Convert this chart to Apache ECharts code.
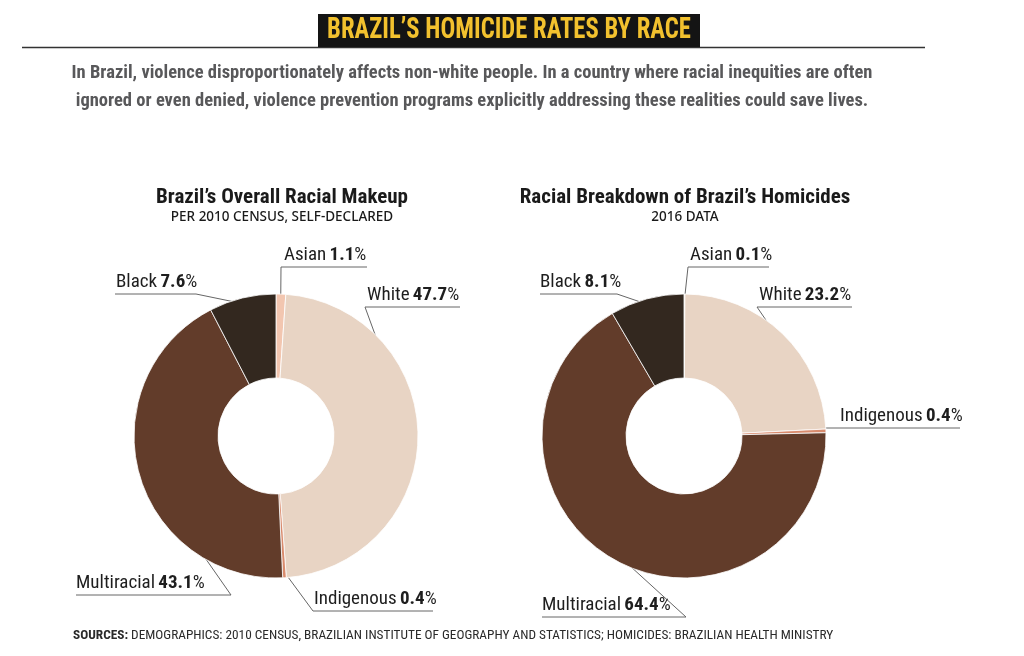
<!DOCTYPE html>
<html><head><meta charset="utf-8">
<script src="https://cdn.jsdelivr.net/npm/echarts@6/dist/echarts.min.js"></script>
<style>html,body{margin:0;padding:0;background:#fff}#c{width:1024px;height:656px}</style>
</head><body><div id="c"></div>
<script>
const categories = ['Asian', 'White', 'Indigenous', 'Multiracial', 'Black'];
const censusValues = [1.1, 47.7, 0.4, 43.1, 7.6];
const homicideValues = [0.1, 23.2, 0.4, 64.4, 8.1];
const sliceColors = ['#f2c6b0', '#e8d4c4', '#d98b6d', '#623c2a', '#33281f'];

const pieCenters = [[276, 436], [684, 436]];
const outerR = 142, innerR = 58;
// label placement: [textX, underlineY, underlineX1, underlineX2, elbowAtRight]
const labelSpots = [
  [[284, 267, 281, 367, 0], [367, 307, 365, 460, 0], [314, 611, 313, 433, 0], [76, 595, 76, 231, 1], [116, 294, 115, 196, 1]],
  [[690, 267, 688, 769, 0], [759, 307, 757, 852, 0], [840, 428, 825, 960, 0], [542, 617, 542, 686, 1], [540, 294, 540, 617, 1]]
];
const narrow = '"Liberation Sans Narrow", "Roboto Condensed", sans-serif';

function midAngles(vals) {
  const total = vals.reduce((a, b) => a + b, 0);
  let cum = 0;
  return vals.map(v => { const a = (cum + v / 2) / total * 2 * Math.PI; cum += v; return a; });
}

function makeLayout(si, vals) {
  const mids = midAngles(vals);
  return function (p) {
    const s = labelSpots[si][p.dataIndex];
    const c = pieCenters[si];
    const a = mids[p.dataIndex];
    const r = outerR - 6;
    const start = [c[0] + Math.sin(a) * r, c[1] - Math.cos(a) * r];
    const elbow = s[4] ? [s[3], s[1]] : [s[2], s[1]];
    const end = s[4] ? [s[2], s[1]] : [s[3], s[1]];
    return { x: s[0], y: s[1] - 2, align: 'left', verticalAlign: 'bottom', labelLinePoints: [start, elbow, end] };
  };
}

function pieSeries(si, vals) {
  return {
    type: 'pie',
    center: pieCenters[si],
    radius: [innerR, outerR],
    startAngle: 90,
    clockwise: true,
    avoidLabelOverlap: false,
    animation: false,
    itemStyle: { borderColor: '#ffffff', borderWidth: 0.8 },
    label: {
      show: true,
      position: 'outside',
      formatter: p => '{n|' + p.name + '} {v|' + p.value.toFixed(1) + '}{p|%}',
      rich: {
        n: { fontFamily: narrow, fontSize: 19, color: '#1e1e1e' },
        v: { fontFamily: narrow, fontSize: 19, fontWeight: 'bold', color: '#1e1e1e' },
        p: { fontFamily: narrow, fontSize: 19, color: '#1e1e1e' }
      }
    },
    labelLine: { show: true, length: 10, length2: 10, lineStyle: { color: '#666', width: 1 } },
    labelLayout: makeLayout(si, vals),
    emphasis: { disabled: true },
    data: categories.map((name, i) => ({ name, value: vals[i], itemStyle: { color: sliceColors[i] } }))
  };
}

const chart = echarts.init(document.getElementById('c'));
chart.setOption({
  backgroundColor: '#ffffff',
  color: sliceColors,
  graphic: [
    { type: 'line', shape: { x1: 22, y1: 47.5, x2: 925, y2: 47.5 }, style: { stroke: '#333', lineWidth: 1.5 } },
    { type: 'rect', shape: { x: 318, y: 14, width: 382, height: 33 }, style: { fill: '#141414' } },
    { type: 'text', x: 509, y: 31, scaleX: 0.85, style: { text: 'BRAZIL’S HOMICIDE RATES BY RACE', fontFamily: narrow, fontWeight: 'bold', fontSize: 29, fill: '#f2c12e', align: 'center', verticalAlign: 'middle' } },
    { type: 'text', x: 472, y: 73, style: { text: 'In Brazil, violence disproportionately affects non-white people. In a country where racial inequities are often', fontFamily: narrow, fontWeight: 'bold', fontSize: 18.5, fill: '#58585a', align: 'center', verticalAlign: 'middle' } },
    { type: 'text', x: 472, y: 101, style: { text: 'ignored or even denied, violence prevention programs explicitly addressing these realities could save lives.', fontFamily: narrow, fontWeight: 'bold', fontSize: 18.5, fill: '#58585a', align: 'center', verticalAlign: 'middle' } },
    { type: 'text', x: 282, y: 198, style: { text: 'Brazil’s Overall Racial Makeup', fontFamily: narrow, fontWeight: 'bold', fontSize: 21, fill: '#1a1a1a', align: 'center', verticalAlign: 'middle' } },
    { type: 'text', x: 282, y: 217, style: { text: 'PER 2010 CENSUS, SELF-DECLARED', fontFamily: '"Noto Sans", sans-serif', fontWeight: 500, fontSize: 13.5, fill: '#1a1a1a', align: 'center', verticalAlign: 'middle' } },
    { type: 'text', x: 685, y: 198, style: { text: 'Racial Breakdown of Brazil’s Homicides', fontFamily: narrow, fontWeight: 'bold', fontSize: 21, fill: '#1a1a1a', align: 'center', verticalAlign: 'middle' } },
    { type: 'text', x: 685, y: 217, style: { text: '2016 DATA', fontFamily: '"Noto Sans", sans-serif', fontWeight: 500, fontSize: 13.5, fill: '#1a1a1a', align: 'center', verticalAlign: 'middle' } },
    { type: 'text', x: 73, y: 636, style: { text: '{b|SOURCES:} DEMOGRAPHICS: 2010 CENSUS, BRAZILIAN INSTITUTE OF GEOGRAPHY AND STATISTICS; HOMICIDES: BRAZILIAN HEALTH MINISTRY', fontFamily: narrow, fontSize: 13.3, fill: '#2a2a2a', align: 'left', verticalAlign: 'middle', rich: { b: { fontFamily: narrow, fontSize: 13.3, fontWeight: 'bold', fill: '#2a2a2a' } } } }
  ],
  series: [pieSeries(0, censusValues), pieSeries(1, homicideValues)]
});
</script></body></html>
